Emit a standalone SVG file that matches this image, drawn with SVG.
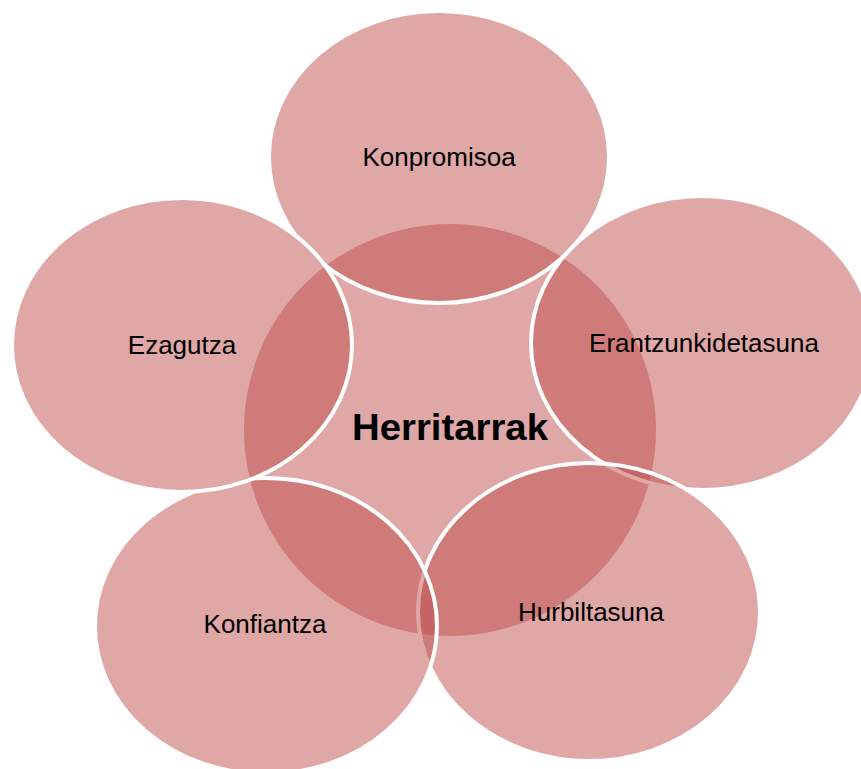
<svg xmlns="http://www.w3.org/2000/svg" width="861" height="769" viewBox="0 0 861 769">
<style>
.c{fill:#C0504D;fill-opacity:0.5}
.o{fill:#C0504D;fill-opacity:0.5;stroke:#FFFFFF;stroke-width:4}
.t{font-family:"Liberation Sans",Arial,sans-serif;font-size:26px;fill:#000;text-anchor:middle;dominant-baseline:central}
.h{font-family:"Liberation Sans",Arial,sans-serif;font-size:37px;font-weight:bold;fill:#000;text-anchor:middle;dominant-baseline:central}
</style>
<rect width="861" height="769" fill="#FFFFFF"/>
<g id="center"><circle class="c" cx="450" cy="430" r="206"/></g>
<g id="n1"><ellipse class="o" cx="439" cy="157" rx="170" ry="146"/></g>
<g id="n2"><ellipse class="o" cx="702" cy="343" rx="171" ry="147"/></g>
<g id="n3"><ellipse class="o" cx="589" cy="612" rx="171" ry="149"/></g>
<g id="n4"><ellipse class="o" cx="266" cy="626" rx="171" ry="148"/></g>
<g id="n5"><ellipse class="o" cx="182" cy="345" rx="170" ry="147"/></g>
<g id="labels">
<text class="h" x="450" y="427" textLength="196" lengthAdjust="spacingAndGlyphs">Herritarrak</text>
<text class="t" x="439" y="157">Konpromisoa</text>
<text class="t" x="704" y="343">Erantzunkidetasuna</text>
<text class="t" x="591" y="612">Hurbiltasuna</text>
<text class="t" x="265" y="624">Konfiantza</text>
<text class="t" x="182" y="345">Ezagutza</text>
</g>
<g id="connectors"/>
</svg>
